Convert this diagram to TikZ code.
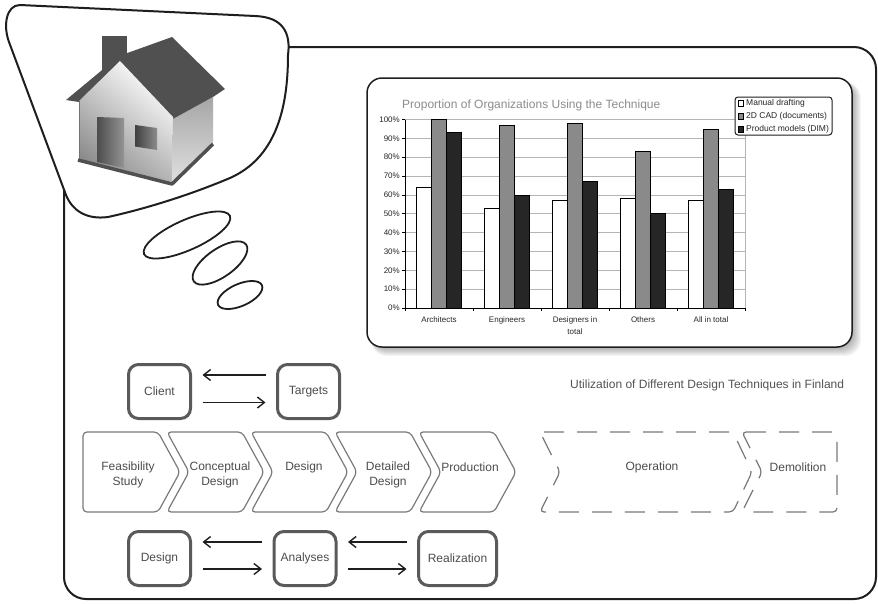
\documentclass[tikz,border=0pt]{standalone}
\usepackage{fontspec}
\setmainfont{Liberation Sans}
\usetikzlibrary{arrows.meta}
\definecolor{frameink}{HTML}{1E1E1E}
\definecolor{boxink}{HTML}{5A5A5A}
\definecolor{txt}{HTML}{4D4D4D}
\definecolor{chevink}{HTML}{7A7A7A}
\definecolor{titlegray}{HTML}{8C8C8C}
\definecolor{roofgray}{HTML}{505050}
\definecolor{bargray}{HTML}{8A8A8A}
\definecolor{bardark}{HTML}{262626}
\definecolor{gridgray}{HTML}{B4B4B4}
\begin{document}
\begin{tikzpicture}[x=1pt,y=-1pt,
  outline/.style={draw=frameink,line width=2pt},
  stagebox/.style={draw=boxink,line width=3pt,rounded corners=10pt,fill=white,
    minimum width=62pt,minimum height=54pt,inner sep=0pt,text=txt,
    font=\fontsize{12}{14}\selectfont},
  chev/.style={draw=chevink,line width=1.2pt,rounded corners=4pt,fill=white},
  chevdash/.style={chev,dash pattern=on 20pt off 13pt},
  chevtext/.style={text=txt,align=center,font=\fontsize{12}{15}\selectfont,inner sep=0pt},
  flow/.style={draw=frameink,line width=1.4pt,-{Straight Barb[length=7pt,width=11pt]},
    shorten <=10.5pt,shorten >=10.5pt},
  tiny/.style={font=\fontsize{8}{10}\selectfont,text=black!85,inner sep=0pt},
  bar/.style={draw=black,line width=0.8pt}
]
\useasboundingbox (0,0) rectangle (878,603);

% outer frame
\draw[outline,rounded corners=22pt] (64,47) rectangle (876,599);

% thought bubble
\draw[outline,fill=white] (20,5) -- (255,16)
  .. controls (283,17) and (291,33) .. (288,55)
  .. controls (288,110) and (275,158) .. (230,178)
  .. controls (185,197) and (140,210) .. (108,217)
  .. controls (86,220) and (72,210) .. (66,195)
  -- (9,42) .. controls (3,26) and (6,5) .. (20,5) -- cycle;
\draw[outline,line width=1.8pt,rotate around={24:(187,235)}] (187,235) ellipse [x radius=47,y radius=15];
\draw[outline,line width=1.8pt,rotate around={35:(220,263)}] (220,263) ellipse [x radius=32,y radius=14];
\draw[outline,line width=1.8pt,rotate around={24:(240,295)}] (240,295) ellipse [x radius=24,y radius=11];

% house
\fill[roofgray] (101.5,35.5) rectangle (127,70);
\fill[roofgray] (66,100) -- (119,56) -- (172,37) -- (225,89) -- (175,122) -- (79,102) -- cycle;
\shade[top color=white,bottom color=black!45,shading angle=-40]
  (79,101) -- (120,61) -- (173,117) -- (173,183) -- (79,160) -- cycle;
\shade[top color=black!35,bottom color=black!12]
  (173,119) -- (213,97) -- (213,143) -- (172,183) -- cycle;
\draw[black!55,line width=0.8pt] (79,101) -- (79,160);
\draw[roofgray,line width=3.5pt,line join=round] (78,160) -- (172,184) -- (213,144);
\shade[left color=black!70,right color=black!42] (97,117) -- (124,118) -- (124,168) -- (97,162) -- cycle;
\shade[left color=black!75,right color=black!45] (135,125) -- (157,128) -- (157,150) -- (135,146.5) -- cycle;

% chart panel with soft shadow
\foreach \s in {1,...,9}
  \fill[black,opacity=0.04,rounded corners=16pt] (371,82) rectangle ({852+\s},{347+\s});
\draw[fill=white,draw=frameink,line width=1.5pt,rounded corners=15pt] (367,78) rectangle (852,347);

\node[anchor=west,text=titlegray,font=\fontsize{12}{13}\selectfont,inner sep=0pt] (ctitle)
  at (402,105) {Proportion of Organizations Using the Technique};

% grid and bars
\foreach \v in {10,20,...,100}
  \draw[gridgray,line width=0.7pt] (405,{308-1.885*\v}) -- (745,{308-1.885*\v});
\draw[gridgray,line width=0.7pt] (745,119.5) -- (745,308);
\foreach \c/\va/\vb/\vc in {0/64/100/93,1/53/97/60,2/57/98/67,3/58/83/50,4/57/95/63}{
  \pgfmathsetmacro\xa{405+68*\c+11.3}
  \draw[bar,fill=white] (\xa,308) rectangle ({\xa+15.1},{308-1.885*\va});
  \draw[bar,fill=bargray] ({\xa+15.1},308) rectangle ({\xa+30.2},{308-1.885*\vb});
  \draw[bar,fill=bardark] ({\xa+30.2},308) rectangle ({\xa+45.3},{308-1.885*\vc});
}
\draw[black,line width=0.8pt] (405,119.5) -- (405,308) -- (745,308);
\foreach \v in {0,10,...,100}{
  \draw[black,line width=0.7pt] (402,{308-1.885*\v}) -- (405,{308-1.885*\v});
  \node[tiny,anchor=east] (yl\v) at (400,{308-1.885*\v}) {\v\%};
}
\foreach \c in {0,...,5}
  \draw[black,line width=0.7pt] ({405+68*\c},308) -- ({405+68*\c},311);
\foreach \c/\t in {0/Architects,1/Engineers,3/Others,4/All in total}
  \node[tiny] (cat\c) at ({439+68*\c},320) {\t};
\node[tiny,align=center,font=\fontsize{8}{12}\selectfont] (cat2) at (575,326) {Designers in\\total};

% legend
\draw[fill=white,draw=frameink,line width=1pt,rounded corners=3pt] (735,97) rectangle (832,135);
\draw[black,line width=0.8pt,fill=white] (738,100.5) rectangle (743.5,106);
\draw[black,line width=0.8pt,fill=bargray] (738,113.5) rectangle (743.5,119);
\draw[black,line width=0.8pt,fill=bardark] (738,126.5) rectangle (743.5,132);
\node[tiny,anchor=west,font=\fontsize{8.5}{10}\selectfont] (lg1) at (746,103) {Manual drafting};
\node[tiny,anchor=west,font=\fontsize{8.5}{10}\selectfont] (lg2) at (746,116.5) {2D CAD (documents)};
\node[tiny,anchor=west,font=\fontsize{8.5}{10}\selectfont] (lg3) at (746,129.5) {Product models (DIM)};

\node[anchor=west,text=black!68,font=\fontsize{12}{14}\selectfont,inner sep=0pt] (caption)
  at (570,385) {Utilization of Different Design Techniques in Finland};

% process chevrons
\draw[chev] (83,432) -- (158,432) -- (180,472) -- (158,512) -- (83,512) -- cycle;
\foreach \x in {167,251,335,419}
  \draw[chev] (\x,432) -- ({\x+75},432) -- ({\x+97},472) -- ({\x+75},512) -- (\x,512) -- ({\x+22},472) -- cycle;
\draw[chevdash] (540,432) -- (733,432) -- (752,472) -- (733,512) -- (540,512) -- (560,472) -- cycle;
\draw[chevdash] (742,432) -- (837,432) -- (837,512) -- (742,512) -- (762,472) -- cycle;

\node[chevtext] (feas) at (128,474.5) {Feasibility\\Study};
\node[chevtext] (concept) at (220,474.5) {Conceptual\\Design};
\node[chevtext] (design1) at (304,467) {Design};
\node[chevtext] (detail) at (388,474.5) {Detailed\\Design};
\node[chevtext] (prod) at (470,467) {Production};
\node[chevtext] (oper) at (652,467) {Operation};
\node[chevtext] (demol) at (798,467) {Demolition};

% role boxes
\node[stagebox] (client) at (159.5,391.5) {Client};
\node[stagebox] (targets) at (308.5,391.5) {Targets};
\node[stagebox] (design2) at (159.5,558.5) {Design};
\node[stagebox] (analyses) at (305,558.5) {Analyses};
\node[stagebox,minimum width=78pt] (realize) at (457.5,558.5) {Realization};

\draw[flow] ([yshift=16.5pt]targets.west) -- ([yshift=16.5pt]client.east);
\draw[flow] ([yshift=-11pt]client.east) -- ([yshift=-11pt]targets.west);
\draw[flow] ([yshift=16.5pt]analyses.west) -- ([yshift=16.5pt]design2.east);
\draw[flow] ([yshift=-10.5pt]design2.east) -- ([yshift=-10.5pt]analyses.west);
\draw[flow] ([yshift=16.5pt]realize.west) -- ([yshift=16.5pt]analyses.east);
\draw[flow] ([yshift=-10.5pt]analyses.east) -- ([yshift=-10.5pt]realize.west);
\end{tikzpicture}
\end{document}
